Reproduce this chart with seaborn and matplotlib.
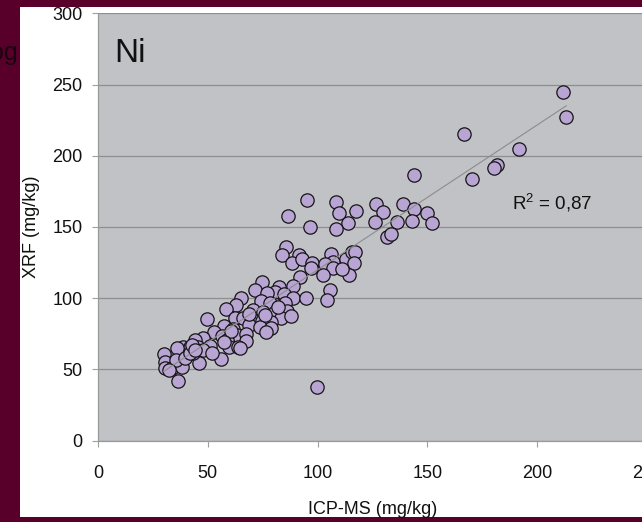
import matplotlib
matplotlib.use("Agg")
import matplotlib.pyplot as plt
from matplotlib.patches import Rectangle
import seaborn as sns
import pandas as pd

# ICP-MS (x) vs XRF (y), Ni in mg/kg
icp_ms = [212.0, 213.3, 166.9, 191.7, 181.9, 180.3, 170.4, 143.8, 138.8, 143.8, 149.8, 143.2, 152.0, 136.2,
          95.4, 86.7, 96.6, 108.4, 109.7, 117.7, 113.8, 108.6, 126.7, 129.7, 126.1, 131.8, 133.3,
          85.5, 83.7, 91.7, 88.4, 92.8, 97.4, 97.2, 106.0, 107.2, 103.4, 107.2, 102.6, 113.1, 115.6, 116.9, 116.8, 114.2,
          91.9, 88.7, 82.6, 80.6, 84.9, 89.0, 85.2, 80.2, 94.6, 105.7, 104.2,
          74.6, 71.4, 77.1, 65.1, 74.1, 78.4, 62.9, 58.3, 70.8, 75.2, 80.5, 86.0, 83.5, 87.8, 62.3, 66.2, 70.6, 74.6, 78.7,
          49.5, 57.3, 61.6, 68.8, 73.8, 78.8, 53.0, 56.6, 63.3, 67.3, 48.0, 58.6, 67.6, 44.2, 51.0, 45.7, 59.8, 63.9, 38.6, 41.9,
          36.1, 29.9, 30.7, 30.7, 33.6, 36.3, 38.4, 35.5, 46.0, 43.4, 47.7, 55.9, 64.7, 76.4, 99.6, 32.5, 39.6, 41.9, 42.7, 44.2, 51.8,
          76.0, 82.0, 111.0, 60.5, 57.5, 69.0]
xrf = [244.6, 227.2, 214.9, 204.4, 193.5, 191.7, 183.7, 186.1, 166.2, 162.9, 159.9, 154.2, 152.6, 153.3,
       168.8, 158.0, 149.8, 167.2, 159.9, 161.5, 152.4, 148.6, 165.8, 160.6, 153.5, 142.6, 144.7,
       135.6, 130.0, 130.0, 124.4, 127.2, 124.6, 121.3, 130.9, 125.5, 123.9, 121.3, 115.9, 127.6, 132.1, 132.1, 124.4, 115.9,
       114.5, 108.4, 107.9, 104.2, 102.6, 99.8, 96.3, 95.8, 99.8, 105.6, 98.6,
       111.2, 105.6, 103.7, 99.8, 98.1, 96.3, 94.9, 92.1, 91.6, 90.4, 90.2, 91.1, 85.8, 87.4, 85.8, 86.0, 84.6, 83.9, 83.2,
       85.1, 80.4, 78.5, 80.8, 79.4, 78.7, 75.9, 73.5, 73.8, 74.5, 71.9, 70.5, 69.6, 70.5, 66.3, 65.8, 65.4, 65.4, 65.8, 65.4,
       65.1, 60.7, 55.1, 50.7, 50.7, 42.0, 51.4, 56.5, 54.2, 61.2, 63.5, 57.0, 64.7, 76.4, 37.8, 49.5, 57.7, 61.2, 67.0, 63.5, 61.2,
       88.0, 93.5, 120.5, 77.0, 69.0, 88.5]

x_ticks = [0, 50, 100, 150, 200, 250]
y_ticks = [0, 50, 100, 150, 200, 250, 300]
element_label = "Ni"
r2_label = "R$^2$ = 0,87"
x_title = "ICP-MS (mg/kg)"
y_title = "XRF (mg/kg)"
side_fragment = "og"

df = pd.DataFrame({"icp": icp_ms, "xrf": xrf})

plt.rcParams["font.family"] = ["Liberation Sans", "DejaVu Sans"]
plt.rcParams["mathtext.fontset"] = "custom"
plt.rcParams["mathtext.rm"] = "Liberation Sans"
plt.rcParams["mathtext.default"] = "regular"

W, H = 642, 522
fig = plt.figure(figsize=(W / 100, H / 100), dpi=100, facecolor="#58002A")
fig.patches.append(Rectangle((19.5 / W, (H - 516.5) / H), (W - 19.5) / W, (516.5 - 7) / H,
                             transform=fig.transFigure, facecolor="white", edgecolor="none", zorder=-5))
fig.text(18 / W, 1 - 53 / H, side_fragment, ha="right", va="center", fontsize=18, color="#1a0010")

ax = fig.add_axes([98 / W, 81.5 / H, 548.75 / W, 427.2 / H])
ax.set_zorder(2)
ax.set_facecolor("#C1C2C6")

sns.scatterplot(data=df, x="icp", y="xrf", ax=ax, s=92, color="#B8A5D3",
                edgecolor="#151515", linewidth=0.9, zorder=3, legend=False)
sns.regplot(data=df, x="icp", y="xrf", ax=ax, scatter=False, ci=None, truncate=True,
            line_kws=dict(color="#8C8C8C", lw=0.8, zorder=4))

ax.set_xlim(0, 250)
ax.set_ylim(0, 300)
ax.set_xticks(x_ticks)
ax.set_yticks(y_ticks)
ax.grid(axis="y", color="#8E8E8E", lw=0.9, zorder=1)
ax.set_axisbelow(True)
for s in ["top", "right"]:
    ax.spines[s].set_visible(False)
for s in ["left", "bottom"]:
    ax.spines[s].set_color("#9A9A9A")
    ax.spines[s].set_linewidth(0.9)
ax.tick_params(axis="x", length=4.5, width=0.8, color="#A0A0A0", pad=13, labelsize=13, labelcolor="#111111")
ax.tick_params(axis="y", length=4.5, width=0.8, color="#A0A0A0", pad=6.5, labelsize=13, labelcolor="#111111")

ax.set_xlabel(x_title, fontsize=13, color="#111111", labelpad=14)
ax.set_ylabel(y_title, fontsize=13, color="#111111", labelpad=9)

ax.text(7.5, 265.5, element_label, fontsize=24, color="#111111", va="baseline", ha="left")
ax.text(188.5, 162, r2_label, fontsize=13.5, color="#111111", va="baseline", ha="left")

fig.savefig("out.png", dpi=100, facecolor=fig.get_facecolor())
